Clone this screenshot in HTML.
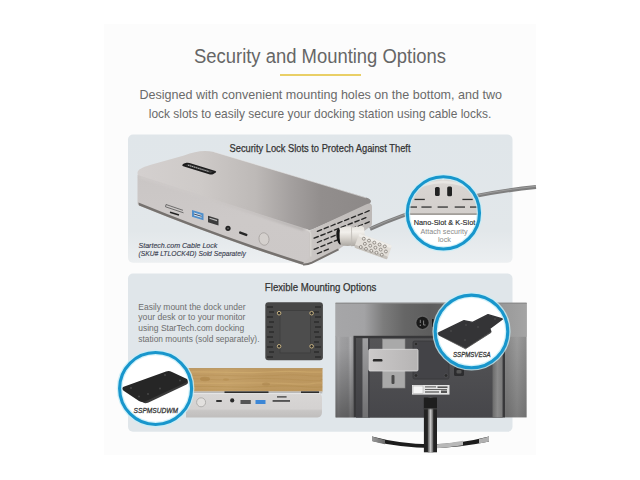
<!DOCTYPE html>
<html><head><meta charset="utf-8">
<style>
html,body{margin:0;padding:0;background:#fff;}
body{width:640px;height:480px;overflow:hidden;position:relative;font-family:"Liberation Sans",sans-serif;}
svg{position:absolute;left:0;top:0;display:block;}
text{font-family:"Liberation Sans",sans-serif;}
</style></head>
<body>
<svg width="640" height="480" viewBox="0 0 640 480">
<defs>
  <linearGradient id="dockTop" gradientUnits="userSpaceOnUse" x1="140" y1="0" x2="372" y2="0">
    <stop offset="0" stop-color="#d4d0cf"/><stop offset="0.26" stop-color="#cecac8"/><stop offset="0.5" stop-color="#bdb9b7"/><stop offset="0.65" stop-color="#a4a09f"/><stop offset="0.78" stop-color="#928e8d"/><stop offset="1" stop-color="#8c8887"/>
  </linearGradient>
  <linearGradient id="dockFront" x1="0" y1="0" x2="0" y2="1">
    <stop offset="0" stop-color="#cac6c5"/><stop offset="0.5" stop-color="#cdc9c8"/><stop offset="1" stop-color="#ccc8c7"/>
  </linearGradient>
  <linearGradient id="dockSide" x1="0" y1="0" x2="1" y2="0">
    <stop offset="0" stop-color="#cbc7c5"/><stop offset="1" stop-color="#bdb9b7"/>
  </linearGradient>
  <linearGradient id="monBack" x1="0" y1="0" x2="1" y2="0">
    <stop offset="0" stop-color="#8e8e8e"/><stop offset="0.02" stop-color="#a0a0a2"/><stop offset="0.06" stop-color="#8a8a8c"/><stop offset="0.085" stop-color="#9a9a9c"/><stop offset="0.9" stop-color="#8a8a8a"/><stop offset="0.95" stop-color="#9c9c9c"/><stop offset="1" stop-color="#8c8c8c"/>
  </linearGradient>
  <linearGradient id="monTop" x1="0" y1="0" x2="1" y2="0">
    <stop offset="0" stop-color="#a6a6a8"/><stop offset="0.15" stop-color="#a3a3a5"/><stop offset="0.25" stop-color="#7c7c7c"/><stop offset="0.36" stop-color="#666"/><stop offset="0.49" stop-color="#5d5d5d"/><stop offset="0.7" stop-color="#6a6a6a"/><stop offset="0.88" stop-color="#9a9a9a"/><stop offset="1" stop-color="#a4a4a4"/>
  </linearGradient>
  <linearGradient id="monLdark" x1="0" y1="0" x2="0" y2="1">
    <stop offset="0" stop-color="#000" stop-opacity="0"/><stop offset="0.15" stop-color="#000" stop-opacity="0.02"/><stop offset="1" stop-color="#000" stop-opacity="0.4"/>
  </linearGradient>
  <linearGradient id="monLframe" x1="0" y1="0" x2="1" y2="0">
    <stop offset="0" stop-color="#9c9c9e"/><stop offset="0.15" stop-color="#aaaaac"/><stop offset="0.3" stop-color="#a0a0a2"/><stop offset="0.7" stop-color="#9a9a9c"/><stop offset="0.82" stop-color="#b0b0b2"/><stop offset="1" stop-color="#9a9a9c"/>
  </linearGradient>
  <linearGradient id="monRdark" x1="0" y1="0" x2="0" y2="1">
    <stop offset="0" stop-color="#000" stop-opacity="0"/><stop offset="1" stop-color="#000" stop-opacity="0.2"/>
  </linearGradient>
  <linearGradient id="innerL1" x1="0" y1="0" x2="0" y2="1">
    <stop offset="0" stop-color="#505052"/><stop offset="1" stop-color="#404044"/>
  </linearGradient>
  <linearGradient id="innerL2" x1="0" y1="0" x2="0" y2="1">
    <stop offset="0" stop-color="#a0a0a2"/><stop offset="0.5" stop-color="#88888a"/><stop offset="1" stop-color="#707072"/>
  </linearGradient>
  <linearGradient id="monInner" x1="0" y1="0" x2="0" y2="1">
    <stop offset="0" stop-color="#555557"/><stop offset="1" stop-color="#46464a"/>
  </linearGradient>
  <linearGradient id="monRband" x1="0" y1="0" x2="1" y2="0">
    <stop offset="0" stop-color="#6a6a6a"/><stop offset="0.5" stop-color="#8a8a8a"/><stop offset="1" stop-color="#7a7a7a"/>
  </linearGradient>
  <linearGradient id="mdock" x1="0" y1="0" x2="1" y2="0">
    <stop offset="0" stop-color="#cccaca"/><stop offset="0.3" stop-color="#c4c2c2"/><stop offset="1" stop-color="#b6b4b4"/>
  </linearGradient>
  <linearGradient id="standL" x1="0" y1="0" x2="1" y2="0">
    <stop offset="0" stop-color="#9a9a9a"/><stop offset="1" stop-color="#6a6a6a"/>
  </linearGradient>
  <linearGradient id="neck" x1="0" y1="0" x2="1" y2="0">
    <stop offset="0" stop-color="#555"/><stop offset="0.5" stop-color="#c8c8c8"/><stop offset="1" stop-color="#555"/>
  </linearGradient>
  <linearGradient id="wood" x1="0" y1="0" x2="1" y2="0">
    <stop offset="0" stop-color="#c09a62"/><stop offset="0.3" stop-color="#c4a068"/><stop offset="0.6" stop-color="#bd9860"/><stop offset="1" stop-color="#bc975f"/>
  </linearGradient>
  <linearGradient id="lockCyl" x1="0" y1="0" x2="0" y2="1">
    <stop offset="0" stop-color="#e4e1dc"/><stop offset="0.3" stop-color="#f2f0ec"/><stop offset="0.6" stop-color="#d8d4ce"/><stop offset="1" stop-color="#aca8a2"/>
  </linearGradient>
  <linearGradient id="slotFace" x1="0" y1="0" x2="0" y2="1">
    <stop offset="0" stop-color="#e2dfdc"/><stop offset="0.4" stop-color="#d8d4d1"/><stop offset="1" stop-color="#d3cfcc"/>
  </linearGradient>
  <linearGradient id="box1bg" x1="0" y1="0" x2="0" y2="1">
    <stop offset="0" stop-color="#e0e6ea"/><stop offset="0.75" stop-color="#e2e7ea"/><stop offset="1" stop-color="#eceff1"/>
  </linearGradient>
  <linearGradient id="d2front" x1="0" y1="0" x2="0" y2="1">
    <stop offset="0" stop-color="#d8d6d5"/><stop offset="0.65" stop-color="#d4d2d1"/><stop offset="0.72" stop-color="#c8c6c5"/><stop offset="1" stop-color="#c0bebd"/>
  </linearGradient>
  <filter id="blur1" x="-5%" y="-50%" width="110%" height="200%"><feGaussianBlur stdDeviation="0.8"/></filter>
  <clipPath id="c1"><circle cx="443.4" cy="212.9" r="36"/></clipPath>
  <clipPath id="c2"><circle cx="154.8" cy="388.4" r="35.5"/></clipPath>
  <clipPath id="c3"><circle cx="472.2" cy="331.4" r="36.5"/></clipPath>
</defs>

<!-- faint backdrop panel -->
<rect x="104" y="24" width="432" height="431" fill="#fcfcfc"/>

<!-- title -->
<text x="320" y="63" font-size="20" fill="#666" text-anchor="middle" textLength="252" lengthAdjust="spacingAndGlyphs">Security and Mounting Options</text>
<rect x="280" y="74" width="81" height="2" fill="#e9cf66"/>
<text x="320.7" y="98.8" font-size="13" fill="#6a6a6a" text-anchor="middle" textLength="362.5" lengthAdjust="spacingAndGlyphs">Designed with convenient mounting holes on the bottom, and two</text>
<text x="320" y="117.5" font-size="13" fill="#6a6a6a" text-anchor="middle" textLength="342.5" lengthAdjust="spacingAndGlyphs">lock slots to easily secure your docking station using cable locks.</text>

<!-- BOX 1 -->
<rect x="128" y="134.5" width="384.5" height="128.2" rx="5" fill="url(#box1bg)"/>
<text x="320" y="152" font-size="11" fill="#333" stroke="#333" stroke-width="0.25" text-anchor="middle" textLength="181" lengthAdjust="spacingAndGlyphs">Security Lock Slots to Protech Against Theft</text>

<!-- cable -->
<path d="M370 229 Q 440 197 536 187" fill="none" stroke="#7e7e7e" stroke-width="3.8"/>
<path d="M370 228.4 Q 440 196.4 536 186.3" fill="none" stroke="#9c9c9c" stroke-width="1"/>

<!-- dock 1 -->
<!-- top face -->
<path d="M137.5,173 C137.5,169.5 142,167.5 150,165 L184,155.5 C192,152.5 198,151 205,151 C208,151 211,151.3 214,152 L366,197.5 C372,199.5 372.5,202 368,205 L312,229.5 C309,230.5 306,230.5 303,229.5 L140,177 C138,176 137.5,175 137.5,173 Z" fill="url(#dockTop)"/>
<!-- front face -->
<path d="M137.5,175 L305,228.5 C309,229.5 311,231 311,234 L311,257 C311,261 308,264 304,264.8 L301,264.2 Q220,238.56 139,205.6 C138,205 137.5,204 137.5,202.5 Z" fill="url(#dockFront)"/>
<path d="M138.5,202.4 Q220,235.9 301,261.5 L304,262.3 L303,264.8 L301,264.2 Q220,238.56 139,205.6 C138.8,204.6 138.5,203.5 138.5,202.4 Z" fill="#76726f"/>
<!-- right face -->
<path d="M309,231 L366,204.5 C370,202.5 372,203.5 372,207 L372,223.5 C372,225.5 371,226.5 369,227.5 L338.5,249.4 L312,263 C309,264.5 306,265 303,264.8 L304,262 L309,258 Z" fill="url(#dockSide)"/>
<path d="M338.5,249.4 L312,262.6 C309,264 306,264.6 303,264.4" stroke="#76726f" stroke-width="2" fill="none"/>
<path d="M306.5,229.8 C309.5,230.5 310.8,232 310.8,234.5 L310.8,256.5" stroke="#d9d6d3" stroke-width="1.2" fill="none"/>
<path d="M214,151.8 L366,197.8" stroke="#e6e6e6" stroke-width="0.8" fill="none" opacity="0.7"/>
<!-- top front soft edge -->
<path d="M140,176.8 L304,229.6" stroke="url(#dockTop)" stroke-width="2.4" fill="none" opacity="0.55" filter="url(#blur1)"/>
<!-- logo badge -->
<path d="M182.2,165.6 Q182.5,164 184,163.4 L186.5,162.8 Q188,162.6 189.5,163 L215.5,171 Q216.8,171.6 215.8,172.6 L213,174.2 Q211.5,174.8 210,174.4 L184,166.6 Q182.6,166.3 182.2,165.6 Z" fill="#1c1c1c"/>
<path d="M185.5,165.2 L188.5,164 L213,171.6 L210.5,172.9 Z" fill="#3c3c3c"/>
<path d="M188,165.2 L209,171.6" stroke="#c0c0c0" stroke-width="0.9" stroke-dasharray="1.4 0.6"/>
<!-- ports -->
<path d="M166,204.5 L183,210.3 M165.5,206.8 L183.5,212.8" stroke="#555" stroke-width="0.8" fill="none"/>
<path d="M166,204.5 L165.5,206.8" stroke="#555" stroke-width="0.8"/>
<path d="M170,212.3 L179,215" stroke="#222" stroke-width="1.5"/>
<path d="M192,210 L203.5,213.6 L203.5,220.3 L192,216.8 Z" fill="#4f8fcb"/>
<path d="M194,212.6 L201.5,214.9 L201.5,217.8 L194,215.5 Z" fill="#dbe7f2"/>
<path d="M194,214 L201.5,216.3" stroke="#2a3a50" stroke-width="0.9"/>
<path d="M208,215.8 L218.5,219 L218.5,225.4 L208,222.2 Z" fill="#3c3c3c"/>
<path d="M209.5,218.3 L217,220.6" stroke="#bbb" stroke-width="1.2"/>
<circle cx="228" cy="228.3" r="2.6" fill="#222"/>
<circle cx="228" cy="228.3" r="0.9" fill="#666"/>
<path d="M240.2,232.6 L246.3,234.9" stroke="#262626" stroke-width="2.4" stroke-linecap="round"/>
<ellipse cx="264" cy="239" rx="5" ry="6.3" fill="#d4d0cd" stroke="#a6a29f" stroke-width="0.8" transform="rotate(-10 264 239)"/>
<!-- side vents -->
<path d="M317.4,231.4L321.6,229.6 M324.2,228.7L328.4,226.9 M331.0,226.0L335.2,224.2 M337.8,223.3L342.0,221.5 M344.6,220.6L348.8,218.8 M351.4,217.9L355.6,216.1 M358.2,215.2L362.4,213.4 M365.0,212.5L369.2,210.7 M314.1,238.2L318.3,236.5 M320.9,235.5L325.1,233.8 M327.7,232.8L331.9,231.1 M334.4,230.1L338.7,228.4 M341.2,227.4L345.5,225.7 M348.1,224.7L352.3,223.0 M354.9,222.0L359.1,220.3 M361.7,219.3L365.9,217.6 M317.4,242.5L321.6,240.7 M324.2,239.8L328.4,238.0 M331.0,237.1L335.2,235.3 M337.8,234.4L342.0,232.6 M344.6,231.7L348.8,229.9 M351.4,229.0L355.6,227.2 M358.2,226.3L362.4,224.5 M365.0,223.6L369.2,221.8 M314.1,249.3L318.3,247.6 M320.9,246.6L325.1,244.9 M327.7,243.9L331.9,242.2 M334.4,241.2L338.7,239.5 M341.2,238.5L345.5,236.8 M348.1,235.8L352.3,234.1 M317.4,253.6L321.6,251.8 M324.2,250.9L328.4,249.1" stroke="#262626" stroke-width="1.35" stroke-linecap="round" fill="none"/>
<!-- lock -->
<g>
  <ellipse cx="339.3" cy="236.7" rx="2.8" ry="8" fill="#161616" transform="rotate(-8 339.3 236.7)"/>
  <path d="M340,228 Q345,226 351.5,226.4 L352.5,245.6 Q346,246.5 341,245 Q338.8,240 340,228 Z" fill="url(#lockCyl)"/>
  <path d="M349.5,227.4 L358,226.8 L361,225.5 L364,227.5 L366,245 L351,246.2 Z" fill="url(#lockCyl)"/>
  <path d="M351.5,227.2 L351.8,245.8" stroke="#bdb9b4" stroke-width="0.8"/>
  <g transform="translate(359.5 241.5) rotate(20)">
    <rect x="-3" y="-7.5" width="35" height="15" rx="3" fill="#e2ded8"/>
    <rect x="-3" y="-7.5" width="35" height="3" rx="1.5" fill="#f0eeea"/>
    <rect x="-3" y="4.5" width="35" height="3" rx="1.4" fill="#c6c2bc"/>
  </g>
  <g fill="#ece9e4" stroke="#8a857e" stroke-width="0.9"><circle cx="363.8" cy="238.7" r="1.45"/><circle cx="364.9" cy="243.8" r="1.45"/><circle cx="360.8" cy="247.0" r="1.45"/><circle cx="369.0" cy="240.6" r="1.45"/><circle cx="370.2" cy="245.7" r="1.45"/><circle cx="366.0" cy="248.9" r="1.45"/><circle cx="374.3" cy="242.6" r="1.45"/><circle cx="375.4" cy="247.7" r="1.45"/><circle cx="371.3" cy="250.8" r="1.45"/><circle cx="379.6" cy="244.5" r="1.45"/><circle cx="380.7" cy="249.6" r="1.45"/><circle cx="376.5" cy="252.7" r="1.45"/><circle cx="384.8" cy="246.4" r="1.45"/><circle cx="385.9" cy="251.5" r="1.45"/><circle cx="381.8" cy="254.7" r="1.45"/></g>
</g>

<text x="138.5" y="247.6" font-size="8" font-style="italic" fill="#3a4150" stroke="#3a4150" stroke-width="0.15" textLength="78.8" lengthAdjust="spacingAndGlyphs">Startech.com Cable Lock</text>
<text x="138.5" y="256.3" font-size="8" font-style="italic" fill="#3a4150" stroke="#3a4150" stroke-width="0.15" textLength="107.3" lengthAdjust="spacingAndGlyphs">(SKU# LTLOCK4D) Sold Separately</text>

<!-- circle 1 -->
<g clip-path="url(#c1)">
  <rect x="400" y="170" width="90" height="90" fill="#fff"/>
  <rect x="400" y="170" width="90" height="44" fill="url(#slotFace)"/>
  <path d="M406,193 Q443,171 480,193" stroke="#e8e6e3" stroke-width="2.6" fill="none"/>
  <rect x="423.5" y="183.2" width="1.2" height="1.2" fill="#333"/><rect x="462.6" y="183.2" width="1.2" height="1.2" fill="#333"/>
  <circle cx="443" cy="178.5" r="1.2" fill="#f4f4f4"/>
  <rect x="400" y="213.2" width="90" height="1.8" fill="#a29e9a"/>
  <rect x="435" y="187" width="4.7" height="9" rx="1.5" fill="#222"/>
  <rect x="447.2" y="186.5" width="4.8" height="9.8" rx="1.5" fill="#222"/>
  <g fill="#333">
    <rect x="414.5" y="198.8" width="10.3" height="1.3"/><rect x="462.4" y="198.8" width="10.3" height="1.3"/>
    <rect x="408" y="206.4" width="9" height="1.3"/><rect x="421.4" y="206.4" width="10.2" height="1.3"/><rect x="437.6" y="206.4" width="10.3" height="1.3"/><rect x="454.7" y="206.4" width="10.3" height="1.3"/><rect x="470" y="206.4" width="9" height="1.3"/>
  </g>
</g>
<circle cx="443.4" cy="212.9" r="36.1" fill="none" stroke="#c6eef8" stroke-width="5.6" opacity="0.8"/>
<circle cx="443.4" cy="212.9" r="36.1" fill="none" stroke="#1896cc" stroke-width="3.1"/>
<text x="444.5" y="224.6" font-size="7.6" fill="#2a2a2a" stroke="#2a2a2a" stroke-width="0.15" text-anchor="middle" textLength="61.5" lengthAdjust="spacingAndGlyphs">Nano-Slot &amp; K-Slot</text>
<text x="444" y="233.6" font-size="8" fill="#8a8a8a" text-anchor="middle" textLength="47" lengthAdjust="spacingAndGlyphs">Attach security</text>
<text x="444.5" y="242" font-size="8" fill="#8a8a8a" text-anchor="middle" textLength="13" lengthAdjust="spacingAndGlyphs">lock</text>

<!-- BOX 2 -->
<rect x="128" y="273.6" width="384.5" height="158.2" rx="5" fill="#e0e6ea"/>
<text x="320.6" y="291.3" font-size="11" fill="#333" stroke="#333" stroke-width="0.25" text-anchor="middle" textLength="111.5" lengthAdjust="spacingAndGlyphs">Flexible Mounting Options</text>
<g font-size="9" fill="#6e6e6e">
<text x="138.3" y="309.9" textLength="107.2" lengthAdjust="spacingAndGlyphs">Easily mount the dock under</text>
<text x="138.3" y="320.3" textLength="107.2" lengthAdjust="spacingAndGlyphs">your desk or to your monitor</text>
<text x="138.3" y="330.8" textLength="105.9" lengthAdjust="spacingAndGlyphs">using StarTech.com docking</text>
<text x="138.3" y="341.5" textLength="121.2" lengthAdjust="spacingAndGlyphs">station mounts (sold separately).</text>
</g>

<!-- mount plate square -->
<rect x="265.3" y="302.2" width="57.6" height="58" rx="3" fill="#474747"/>
<rect x="280" y="310.6" width="30.5" height="42.3" fill="#4d4d4d" stroke="#3e3e3e" stroke-width="0.8"/>
<g stroke="#2c2c2c" stroke-width="1.3">
  <path d="M267,307 h6 M269,312 h5 M267,317 h6 M269,322 h5 M267,327 h6 M269,332 h5 M267,337 h6 M269,342 h5 M267,347 h6 M269,352 h5 M267,357 h6"/>
  <path d="M315,307 h6 M314,312 h5 M315,317 h6 M314,322 h5 M315,327 h6 M314,332 h5 M315,337 h6 M314,342 h5 M315,347 h6 M314,352 h5 M315,357 h6"/>
</g>
<g fill="#2a2a2a" stroke="#c9b483" stroke-width="1"><circle cx="279.1" cy="313.2" r="1.8"/><circle cx="311.6" cy="313.2" r="1.8"/><circle cx="279.1" cy="346.3" r="1.8"/><circle cx="311.6" cy="346.3" r="1.8"/></g>

<!-- wood desk -->
<rect x="186" y="368.2" width="136.5" height="23.4" fill="url(#wood)"/>
<g fill="none" stroke-linecap="round" opacity="0.7">
  <path d="M188,372 C215,371 240,374 270,372 S305,373 322,372" stroke="#dab777" stroke-width="1.2" opacity="0.6"/>
  <path d="M190,375.5 C220,374 245,377.5 275,375.5 S308,377 322,376" stroke="#a88244" stroke-width="0.8" opacity="0.45"/>
  <path d="M188,379 C205,378 215,381 235,379.5 S270,378 300,380 S318,379 322,379.5" stroke="#b08a4c" stroke-width="1" opacity="0.5"/>
  <path d="M192,383 C225,384.5 250,381.5 285,383.5 S312,382 322,383" stroke="#d6b274" stroke-width="1.3" opacity="0.55"/>
  <path d="M188,386.5 C215,385.5 240,388.5 268,386.5 S305,388 322,387" stroke="#a4803f" stroke-width="0.9" opacity="0.45"/>
  <path d="M195,389.5 C230,389 260,390.5 320,389.5" stroke="#b8924f" stroke-width="0.8" opacity="0.4"/>
</g>
<ellipse cx="205" cy="379" rx="5" ry="2.2" fill="#a98246" opacity="0.55"/>
<ellipse cx="226" cy="379.5" rx="3" ry="1.3" fill="#b38c4e" opacity="0.5"/>
<ellipse cx="266" cy="384" rx="4" ry="1.6" fill="#a8824a" opacity="0.5"/>
<rect x="186" y="368.2" width="136.5" height="1" fill="#b89660"/>
<rect x="186" y="391.5" width="136.3" height="1.9" fill="#b9b9b9"/>
<rect x="224.5" y="391.4" width="44" height="2" fill="#2e2e2e"/>
<rect x="301" y="391.4" width="18" height="2" fill="#2e2e2e"/>
<!-- dock 2 front -->
<path d="M186,393.3 L317.5,393.3 C320.5,393.3 322,395 322,398 L322,412 C322,415 320.5,417.4 317.5,417.4 L186,417.4 Z" fill="url(#d2front)"/>
<rect x="186" y="393.3" width="134" height="0.8" fill="#ececec"/>
<circle cx="201.1" cy="402.3" r="4.5" fill="#e2e0de" stroke="#acaaa8" stroke-width="0.9"/>
<rect x="216" y="400" width="6" height="2" rx="1" fill="#333"/>
<circle cx="232.2" cy="400.4" r="2.1" fill="#2a2a2a"/>
<rect x="240.5" y="400" width="10.3" height="4" fill="#555"/>
<rect x="255.5" y="400" width="10" height="4" fill="#3d87d6"/>
<rect x="272.6" y="400.2" width="17.4" height="1.5" fill="#333"/>
<rect x="277" y="396.3" width="9.6" height="1.2" fill="#333"/>

<!-- monitor -->
<rect x="335.6" y="302.8" width="191" height="114.6" fill="url(#monBack)"/>
<rect x="335.6" y="336" width="18" height="81.4" fill="url(#monLframe)"/>
<rect x="335.6" y="336" width="18" height="81.4" fill="url(#monLdark)"/>
<rect x="502" y="336" width="24.6" height="81.4" fill="url(#monRdark)"/>
<rect x="335.6" y="302.8" width="191" height="34" fill="url(#monTop)"/>
<rect x="335.6" y="302.8" width="191" height="1" fill="#8a8a8a"/>
<!-- recess -->
<rect x="353.5" y="335.8" width="151.5" height="81.6" fill="#38383a"/>
<rect x="356" y="338.3" width="146.5" height="79.1" fill="url(#monInner)"/>
<rect x="356" y="338.3" width="6.5" height="79.1" fill="url(#innerL1)"/>
<rect x="362.5" y="338.3" width="5.5" height="79.1" fill="url(#innerL2)"/>
<rect x="368" y="338.3" width="2" height="79.1" fill="#434347"/>
<rect x="492.5" y="338.3" width="10" height="79.1" fill="url(#monRband)"/>
<circle cx="422.5" cy="322.8" r="7" fill="none" stroke="#6e6e6e" stroke-width="0.8" opacity="0.7"/>
<circle cx="422.5" cy="322.8" r="6.1" fill="#1a1a1a"/>
<path d="M420.3,319.8 v3.2 M423.6,320.5 v4.5 h2" stroke="#8a8a8a" stroke-width="0.9" fill="none"/>
<circle cx="420.3" cy="325.3" r="0.7" fill="#8a8a8a"/>
<rect x="432" y="319" width="1.6" height="7.8" fill="#1c1c1c"/>
<rect x="413" y="341" width="36" height="38" rx="1.5" fill="#434347" stroke="#38383b" stroke-width="0.8"/>
<g fill="#2b2b2b" stroke="#5a5a5e" stroke-width="0.5"><circle cx="416" cy="344" r="1.8"/><circle cx="446" cy="344" r="1.8"/><circle cx="416" cy="375.5" r="1.8"/><circle cx="446" cy="375.5" r="1.8"/></g>
<rect x="454" y="367" width="10" height="9" rx="1.5" fill="#2c2c2e"/>
<rect x="456.5" y="370" width="5" height="3.5" rx="1" fill="#555"/>
<rect x="382.5" y="339" width="22.5" height="49" fill="#a9a9a9"/>
<rect x="382.5" y="339" width="22.5" height="49" fill="none" stroke="#8a8a8a" stroke-width="0.6"/>
<rect x="391.5" y="375" width="3" height="9" rx="1" fill="#4a4a4a"/>
<rect x="368.8" y="349.3" width="49.2" height="21.7" rx="1.2" fill="url(#mdock)" stroke="#dcdcdc" stroke-width="0.8"/>
<rect x="372.8" y="359" width="9.7" height="2.6" rx="1.2" fill="#2a2a2a"/>
<rect x="412" y="385" width="37.5" height="9.6" fill="#e4e4e4"/>
<rect x="413" y="386" width="10" height="7.6" fill="#f6f6f6" stroke="#999" stroke-width="0.4"/>
<g fill="#555"><rect x="425" y="386.4" width="11" height="1"/><rect x="437.5" y="386.4" width="10" height="1.6"/><rect x="425" y="389" width="22" height="0.9"/><rect x="425" y="391.4" width="14" height="1.2"/><rect x="441" y="390.5" width="6" height="2.5"/></g>
<!-- stand -->
<path d="M372,436.6 Q430,452 489,436.6 L489,441.6 Q430,454.5 372,441 Z" fill="#1c1c1c"/>
<path d="M372,436.6 Q378,438.5 385,440 L385,444.3 Q378,442.8 372,441 Z" fill="url(#standL)"/>
<path d="M437,444.3 Q450,443.3 463,440.8 L463,445.3 Q450,447.5 437,448.3 Z" fill="#b8b8b8"/>
<path d="M479,438.9 Q485,437.8 489,436.6 L489,441.6 Q485,442.6 479,443.6 Z" fill="#b0b0b0"/>
<rect x="423.9" y="397.7" width="13.1" height="54.6" fill="#222"/>
<rect x="427.8" y="397.7" width="5.5" height="54.6" fill="url(#neck)"/>
<rect x="423.9" y="397.7" width="13.1" height="11" fill="#1e1e1e"/>
<rect x="423.9" y="408.5" width="13.1" height="0.8" fill="#555"/>

<!-- circle 2 -->
<circle cx="155.6" cy="388.5" r="36" fill="#fff"/>
<path d="M123.5,389.5 L143,402.5 Q145,403.8 148,402.8 L186.5,384.5 Q188.5,383.3 188,381.5 L186,380.5 L145.5,399.5 Q143,400.5 141,399.3 Z" fill="#3a3a3a"/>
<path d="M123,387 L166,371.5 Q169,370.5 172,372 L187,379 Q189,381 186,382.5 L145,401.5 Q142,402.5 139,401 L124,391 Q121,389 123,387 Z" fill="#262626"/>
<g fill="#4a4a4a"><circle cx="131" cy="388" r="0.9"/><circle cx="139" cy="396.5" r="0.9"/><circle cx="165" cy="375" r="0.9"/><circle cx="180" cy="380.5" r="0.9"/><circle cx="148" cy="394" r="0.9"/><circle cx="160" cy="388.5" r="0.9"/></g>
<circle cx="155.6" cy="388.5" r="36" fill="none" stroke="#c6eef8" stroke-width="5.6" opacity="0.8"/>
<circle cx="155.6" cy="388.5" r="36" fill="none" stroke="#1896cc" stroke-width="3.1"/>
<text x="155.8" y="412.8" font-size="7.9" font-style="italic" fill="#383838" stroke="#383838" stroke-width="0.3" text-anchor="middle" textLength="44.5" lengthAdjust="spacingAndGlyphs">SSPMSUDWM</text>

<!-- circle 3 -->
<circle cx="471.5" cy="331.4" r="36.3" fill="#fff"/>
<path d="M438.5,335 L465.5,348.8 L491,332.5 L491,331 L465.8,347.2 L438.5,333.5 Z" fill="#4a4a4a" stroke="#4a4a4a" stroke-width="0.8" stroke-linejoin="round"/>
<path d="M437.7,333.5 L464,320.7 L472.7,322.4 L488,314.7 L502.5,319 L489.7,328.4 L490.6,331 L465.8,347.2 Z" fill="#343436" stroke="#343436" stroke-width="1.4" stroke-linejoin="round"/>
<g fill="#555"><circle cx="451" cy="331" r="0.8"/><circle cx="465" cy="340" r="0.8"/><circle cx="478" cy="327" r="0.8"/><circle cx="466" cy="325" r="0.8"/><circle cx="495" cy="319" r="0.8"/></g>
<circle cx="471.5" cy="331.4" r="36.3" fill="none" stroke="#c6eef8" stroke-width="5.6" opacity="0.8"/>
<circle cx="471.5" cy="331.4" r="36.3" fill="none" stroke="#1896cc" stroke-width="3.1"/>
<text x="471.8" y="356.9" font-size="7.9" font-style="italic" fill="#383838" stroke="#383838" stroke-width="0.3" text-anchor="middle" textLength="37.6" lengthAdjust="spacingAndGlyphs">SSPMSVESA</text>

</svg>
</body></html>
